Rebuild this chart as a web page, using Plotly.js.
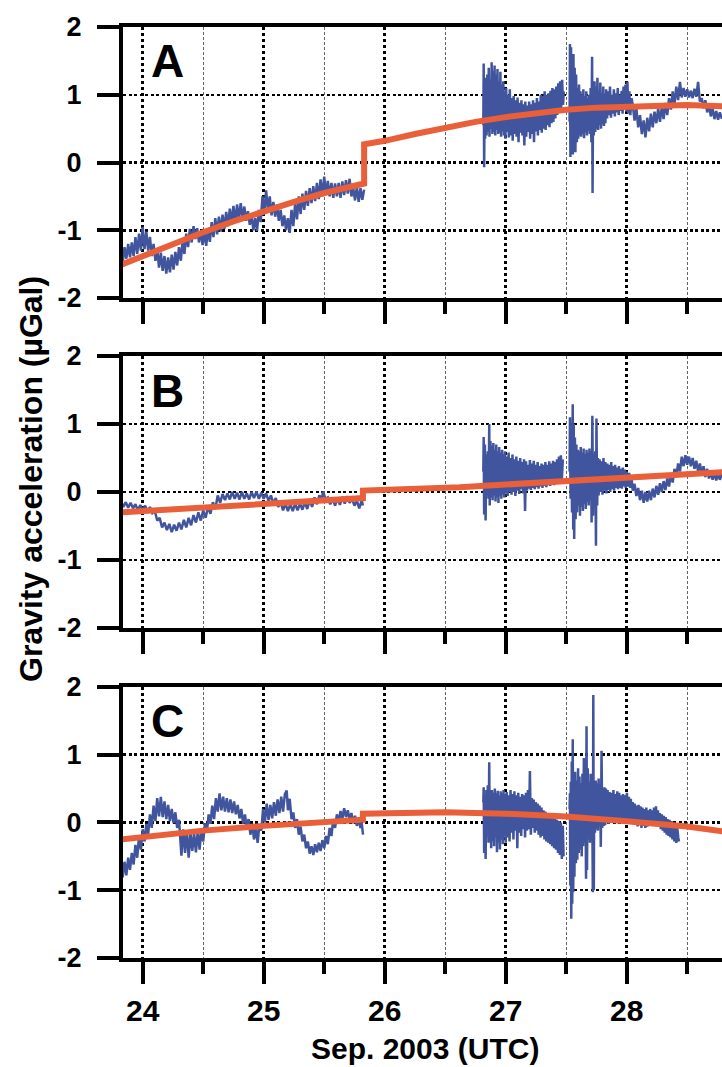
<!DOCTYPE html>
<html>
<head>
<meta charset="utf-8">
<script src="https://cdn.plot.ly/plotly-3.0.1.min.js"></script>
<style>html,body{margin:0;padding:0;background:#fff;}#chart{width:722px;height:1067px;}</style>
</head>
<body>
<div id="chart"></div>
<script>
// ---------- data (time in days of Sep. 2003 UTC, gravity in µGal) ----------
const tickDays = [24, 25, 26, 27, 28];
const tickDayLabels = ['24', '25', '26', '27', '28'];
const halfDays = [24.5, 25.5, 26.5, 27.5, 28.5];
const tickG = [-2, -1, 0, 1, 2];
const tickGLabels = ['-2', '-1', '0', '1', '2'];
const panelLetters = ['A', 'B', 'C'];
const yTitle = 'Gravity acceleration (µGal)';
const xTitle = 'Sep. 2003 (UTC)';

// Panel A – observed (blue), three recorded pieces
const obsA1 = [
[23.82,-1.22],[23.835,-1.47],[23.85,-1.25],[23.865,-1.42],[23.88,-1.20],[23.895,-1.40],[23.91,-1.18],[23.925,-1.38],[23.94,-1.10],[23.955,-1.35],
[23.97,-1.05],[23.985,-1.30],[24.00,-0.95],[24.015,-1.28],[24.03,-1.02],[24.045,-1.30],[24.06,-1.10],[24.075,-1.38],[24.09,-1.20],[24.105,-1.45],
[24.12,-1.28],[24.135,-1.55],[24.15,-1.33],[24.165,-1.60],[24.18,-1.38],[24.195,-1.64],[24.21,-1.40],[24.225,-1.62],[24.24,-1.36],[24.255,-1.58],
[24.27,-1.32],[24.285,-1.52],[24.30,-1.25],[24.315,-1.45],[24.33,-1.15],[24.345,-1.35],[24.36,-1.05],[24.375,-1.25],[24.39,-0.98],[24.405,-1.18],
[24.42,-0.94],[24.435,-1.13],[24.45,-0.97],[24.465,-1.18],[24.48,-1.01],[24.495,-1.22],[24.51,-1.03],[24.525,-1.23],[24.54,-0.97],[24.555,-1.17],
[24.57,-0.88],[24.585,-1.10],[24.60,-0.82],[24.615,-1.06],[24.63,-0.80],[24.645,-1.02],[24.66,-0.77],[24.675,-0.98],[24.69,-0.73],[24.705,-0.94],
[24.72,-0.68],[24.735,-0.90],[24.75,-0.64],[24.765,-0.88],[24.78,-0.62],[24.795,-0.84],[24.81,-0.60],[24.825,-0.82],[24.84,-0.65],[24.855,-0.86],
[24.87,-0.72],[24.885,-0.92],[24.90,-0.78],[24.915,-1.00],[24.93,-0.82],[24.945,-1.01],[24.96,-0.70],[24.975,-0.88],[24.99,-0.50],[25.005,-0.75],
[25.02,-0.41],[25.035,-0.70],[25.05,-0.50],[25.065,-0.78],[25.08,-0.58],[25.095,-0.80],[25.11,-0.62],[25.125,-0.86],[25.14,-0.70],[25.155,-0.94],
[25.17,-0.78],[25.185,-1.00],[25.20,-0.82],[25.215,-1.04],[25.23,-0.70],[25.245,-0.94],[25.26,-0.60],[25.275,-0.84],[25.29,-0.50],[25.305,-0.76],
[25.32,-0.46],[25.335,-0.70],[25.35,-0.42],[25.365,-0.64],[25.38,-0.38],[25.395,-0.60],[25.41,-0.35],[25.425,-0.57],[25.44,-0.30],[25.455,-0.54],
[25.47,-0.25],[25.485,-0.50],[25.50,-0.21],[25.515,-0.48],[25.53,-0.27],[25.545,-0.50],[25.56,-0.30],[25.575,-0.52],[25.59,-0.31],[25.605,-0.50],
[25.62,-0.30],[25.635,-0.52],[25.65,-0.28],[25.665,-0.48],[25.68,-0.26],[25.695,-0.46],[25.71,-0.24],[25.725,-0.50],[25.74,-0.38],[25.755,-0.56],
[25.77,-0.36],[25.785,-0.58],[25.80,-0.38],[25.815,-0.55],[25.83,-0.40]
];
const obsA2 = [
[26.815,0.55],[26.818,1.46],[26.822,-0.07],[26.826,1.05],[26.830,0.35],[26.836,1.25],[26.842,0.40],[26.848,1.30],[26.854,0.45],[26.860,1.40],
[26.866,0.38],[26.872,1.22],[26.878,0.50],[26.884,1.48],[26.890,0.42],[26.896,1.35],[26.902,0.45],[26.908,1.43],[26.914,0.40],[26.920,1.30],
[26.926,0.48],[26.932,1.38],[26.938,0.42],[26.944,1.20],[26.950,0.44],[26.956,1.34],[26.962,0.38],[26.968,1.15],[26.974,0.46],[26.980,1.20],
[26.986,0.40],[26.992,1.05],[26.998,0.35],[27.004,1.10],[27.010,0.45],[27.018,1.00],[27.026,0.37],[27.034,1.08],[27.042,0.40],[27.050,0.95],
[27.058,0.32],[27.066,0.98],[27.074,0.42],[27.082,0.92],[27.090,0.38],[27.098,0.96],[27.106,0.30],[27.114,0.88],[27.122,0.44],[27.130,0.92],
[27.138,0.40],[27.146,0.86],[27.154,0.25],[27.162,0.90],[27.170,0.38],[27.178,0.84],[27.186,0.45],[27.194,0.90],[27.202,0.35],[27.210,0.86],
[27.218,0.42],[27.226,0.92],[27.234,0.30],[27.242,0.88],[27.250,0.46],[27.258,0.95],[27.266,0.40],[27.274,0.90],[27.282,0.48],[27.290,1.00],
[27.298,0.44],[27.306,0.98],[27.314,0.50],[27.322,1.05],[27.330,0.48],[27.338,1.00],[27.346,0.55],[27.354,1.02],[27.362,0.52],[27.370,1.06],
[27.378,0.58],[27.386,1.10],[27.394,0.60],[27.402,1.08],[27.410,0.65],[27.418,1.12],[27.426,0.70],[27.434,1.17],[27.442,0.75],[27.450,1.20],
[27.458,0.80],[27.466,1.22],[27.474,0.85],[27.480,1.05]
];
const obsA3 = [
[27.528,0.60],[27.531,1.75],[27.535,0.08],[27.540,1.70],[27.545,0.20],[27.550,1.45],[27.555,0.12],[27.560,1.60],[27.565,0.27],[27.570,1.40],
[27.576,0.15],[27.582,1.30],[27.588,0.30],[27.594,1.10],[27.600,0.35],[27.606,1.15],[27.612,0.40],[27.618,1.05],[27.624,0.38],[27.630,1.00],
[27.636,0.42],[27.642,1.08],[27.648,0.36],[27.654,0.98],[27.660,0.44],[27.666,1.05],[27.672,0.40],[27.678,0.95],[27.684,0.46],[27.690,1.00],
[27.696,0.42],[27.702,1.10],[27.708,0.30],[27.714,1.56],[27.718,-0.45],[27.722,1.00],[27.728,0.40],[27.734,1.20],[27.740,0.45],[27.746,1.12],
[27.752,0.50],[27.758,1.25],[27.764,0.48],[27.770,1.05],[27.776,0.55],[27.782,1.18],[27.788,0.50],[27.794,1.02],[27.800,0.56],[27.806,1.12],
[27.812,0.54],[27.818,1.00],[27.824,0.58],[27.830,1.08],[27.838,0.65],[27.846,1.05],[27.854,0.70],[27.862,1.12],[27.870,0.66],[27.878,1.00],
[27.886,0.72],[27.894,1.08],[27.902,0.68],[27.910,1.02],[27.918,0.74],[27.926,1.10],[27.934,0.70],[27.942,1.00],[27.950,0.76],[27.958,1.06],
[27.966,0.72],[27.974,1.12],[27.982,0.78],[27.990,1.15],[27.998,0.75],[28.006,1.19],[28.014,0.72],[28.022,1.05],[28.030,0.70],[28.040,0.95],
[28.050,0.85],[28.065,0.62],[28.080,0.80],[28.095,0.52],[28.110,0.70],[28.125,0.42],[28.140,0.62],[28.155,0.37],[28.170,0.66],[28.185,0.46],
[28.200,0.72],[28.215,0.52],[28.230,0.75],[28.245,0.58],[28.260,0.80],[28.275,0.60],[28.290,0.82],[28.305,0.64],[28.320,0.88],[28.335,0.70],
[28.350,0.95],[28.365,0.78],[28.380,1.05],[28.395,0.86],[28.410,1.12],[28.425,0.92],[28.440,1.19],[28.455,0.96],[28.470,1.10],[28.485,0.97],
[28.500,1.08],[28.515,0.96],[28.530,1.06],[28.545,0.95],[28.560,1.09],[28.575,0.97],[28.590,1.19],[28.605,0.90],[28.620,0.95],[28.635,0.80],
[28.650,0.92],[28.665,0.74],[28.680,0.86],[28.695,0.68],[28.710,0.80],[28.725,0.64],[28.740,0.76],[28.755,0.63],[28.770,0.74],[28.785,0.65],
[28.800,0.72]
];
// Panel A – model (orange)
const modelA = [
[23.82,-1.51],[24.0,-1.38],[24.25,-1.20],[24.5,-1.03],[24.75,-0.87],[25.0,-0.72],[25.25,-0.58],[25.5,-0.45],[25.83,-0.31],
[25.83,0.27],[26.0,0.32],[26.25,0.42],[26.5,0.52],[26.75,0.60],[27.0,0.67],[27.25,0.73],[27.5,0.78],[27.75,0.81],[28.0,0.83],[28.25,0.845],[28.5,0.85],[28.79,0.83]
];

// Panel B
const obsB1 = [
[23.82,-0.14],[23.84,-0.22],[23.86,-0.15],[23.88,-0.23],[23.90,-0.16],[23.92,-0.24],[23.94,-0.18],[23.96,-0.27],[23.98,-0.19],[24.00,-0.27],
[24.02,-0.20],[24.04,-0.29],[24.06,-0.22],[24.08,-0.31],[24.10,-0.28],[24.12,-0.42],[24.14,-0.38],[24.16,-0.52],[24.18,-0.45],[24.20,-0.56],
[24.22,-0.47],[24.24,-0.59],[24.26,-0.48],[24.28,-0.57],[24.30,-0.45],[24.32,-0.55],[24.34,-0.41],[24.36,-0.52],[24.38,-0.38],[24.40,-0.49],
[24.42,-0.34],[24.44,-0.45],[24.46,-0.30],[24.48,-0.42],[24.50,-0.27],[24.52,-0.38],[24.54,-0.22],[24.56,-0.32],[24.58,-0.15],[24.60,-0.25],
[24.62,-0.05],[24.64,-0.16],[24.66,-0.03],[24.68,-0.12],[24.70,-0.02],[24.72,-0.11],[24.74,0.00],[24.76,-0.10],[24.78,-0.01],[24.80,-0.11],
[24.82,0.00],[24.84,-0.10],[24.86,-0.02],[24.88,-0.11],[24.90,0.00],[24.92,-0.09],[24.94,0.01],[24.96,-0.10],[24.98,-0.01],[25.00,-0.10],
[25.02,-0.02],[25.04,-0.13],[25.06,-0.05],[25.08,-0.17],[25.10,-0.09],[25.12,-0.22],[25.14,-0.15],[25.16,-0.27],[25.18,-0.17],[25.20,-0.28],
[25.22,-0.18],[25.24,-0.28],[25.26,-0.17],[25.28,-0.27],[25.30,-0.17],[25.32,-0.26],[25.34,-0.15],[25.36,-0.25],[25.38,-0.12],[25.40,-0.22],
[25.42,-0.08],[25.44,-0.18],[25.46,-0.05],[25.48,-0.12],[25.49,0.01],[25.51,-0.10],[25.53,-0.08],[25.55,-0.18],[25.57,-0.10],[25.59,-0.20],
[25.61,-0.09],[25.63,-0.19],[25.65,-0.07],[25.67,-0.17],[25.69,-0.06],[25.71,-0.16],[25.73,-0.10],[25.75,-0.20],[25.77,-0.13],[25.79,-0.24],
[25.81,-0.12],[25.82,-0.20]
];
const obsB2 = [
[26.815,0.30],[26.818,0.81],[26.822,-0.33],[26.828,0.70],[26.834,-0.42],[26.840,0.55],[26.846,-0.05],[26.852,0.60],[26.858,-0.10],[26.864,1.00],
[26.868,-0.20],[26.874,0.75],[26.880,-0.08],[26.886,0.68],[26.892,-0.12],[26.898,0.72],[26.904,-0.05],[26.910,0.62],[26.916,-0.14],[26.922,0.70],
[26.928,-0.08],[26.934,0.60],[26.940,-0.16],[26.946,0.66],[26.952,-0.06],[26.958,0.58],[26.964,-0.10],[26.970,0.62],[26.976,-0.04],[26.982,0.56],
[26.988,-0.08],[26.994,0.60],[27.000,-0.02],[27.008,0.52],[27.016,-0.06],[27.024,0.58],[27.032,0.00],[27.040,0.50],[27.048,-0.04],[27.056,0.55],
[27.064,0.00],[27.072,0.48],[27.080,-0.06],[27.088,0.52],[27.096,0.02],[27.104,0.46],[27.112,-0.03],[27.120,0.50],[27.128,0.04],[27.136,0.44],
[27.144,-0.02],[27.152,0.48],[27.160,-0.28],[27.168,0.45],[27.176,0.02],[27.184,0.40],[27.192,0.05],[27.200,0.47],[27.208,0.03],[27.216,0.42],
[27.224,0.06],[27.232,0.46],[27.240,0.04],[27.248,0.40],[27.256,0.07],[27.264,0.44],[27.272,0.05],[27.280,0.38],[27.288,0.08],[27.296,0.42],
[27.304,0.06],[27.312,0.40],[27.320,0.09],[27.328,0.44],[27.336,0.07],[27.344,0.40],[27.352,0.10],[27.360,0.45],[27.368,0.09],[27.376,0.42],
[27.384,0.12],[27.392,0.46],[27.400,0.10],[27.408,0.44],[27.416,0.13],[27.424,0.48],[27.432,0.12],[27.440,0.52],[27.448,0.15],[27.456,0.54],
[27.464,0.18],[27.472,0.48]
];
const obsB3 = [
[27.528,0.30],[27.531,1.10],[27.536,-0.10],[27.542,0.90],[27.548,-0.30],[27.554,1.29],[27.558,-0.55],[27.562,1.00],[27.566,-0.69],[27.572,0.80],
[27.578,-0.40],[27.584,0.70],[27.590,-0.30],[27.596,0.62],[27.602,-0.20],[27.608,0.60],[27.614,-0.35],[27.620,0.66],[27.626,-0.22],[27.632,0.58],
[27.638,-0.28],[27.644,0.64],[27.650,-0.18],[27.656,0.56],[27.662,-0.25],[27.668,0.62],[27.674,-0.15],[27.680,0.58],[27.686,-0.20],[27.692,0.64],
[27.698,-0.12],[27.704,0.60],[27.710,-0.45],[27.716,1.12],[27.722,-0.35],[27.728,0.55],[27.734,-0.10],[27.740,0.60],[27.746,-0.79],[27.750,1.08],
[27.756,-0.20],[27.762,0.50],[27.768,-0.05],[27.776,0.48],[27.784,0.00],[27.792,0.45],[27.800,-0.04],[27.808,0.50],[27.816,0.02],[27.824,0.44],
[27.832,-0.02],[27.840,0.42],[27.848,0.03],[27.856,0.40],[27.864,0.00],[27.872,0.44],[27.880,0.04],[27.888,0.38],[27.896,0.02],[27.904,0.40],
[27.912,0.06],[27.920,0.36],[27.928,0.04],[27.936,0.38],[27.944,0.06],[27.952,0.34],[27.960,0.05],[27.968,0.36],[27.976,0.08],[27.984,0.33],
[27.992,0.06],[28.000,0.30],[28.010,0.08],[28.020,0.28],[28.030,0.06],[28.040,0.20],[28.050,0.02],[28.065,0.12],[28.080,-0.06],[28.095,0.06],
[28.110,-0.12],[28.125,0.02],[28.140,-0.16],[28.155,0.00],[28.170,-0.14],[28.185,0.02],[28.200,-0.12],[28.215,0.05],[28.230,-0.08],[28.245,0.09],
[28.260,-0.04],[28.275,0.13],[28.290,0.00],[28.305,0.16],[28.320,0.03],[28.335,0.20],[28.350,0.08],[28.365,0.27],[28.380,0.14],[28.395,0.34],
[28.410,0.22],[28.425,0.42],[28.440,0.30],[28.455,0.52],[28.470,0.38],[28.485,0.54],[28.500,0.40],[28.515,0.52],[28.530,0.38],[28.545,0.50],
[28.560,0.34],[28.575,0.46],[28.590,0.30],[28.605,0.42],[28.620,0.26],[28.635,0.38],[28.650,0.22],[28.665,0.34],[28.680,0.20],[28.695,0.30],
[28.710,0.18],[28.725,0.28],[28.740,0.17],[28.755,0.27],[28.770,0.18],[28.785,0.26],[28.800,0.20]
];
const modelB = [
[23.82,-0.30],[24.0,-0.28],[24.5,-0.23],[25.0,-0.16],[25.5,-0.12],[25.82,-0.09],
[25.82,0.02],[26.0,0.03],[26.3,0.04],[26.62,0.07],[27.0,0.11],[27.45,0.16],[28.0,0.22],[28.5,0.26],[28.79,0.29]
];

// Panel C
const obsC1 = [
[23.82,-0.62],[23.835,-0.81],[23.85,-0.58],[23.865,-0.78],[23.88,-0.52],[23.895,-0.70],[23.91,-0.45],[23.925,-0.62],[23.94,-0.33],[23.955,-0.52],
[23.97,-0.20],[23.985,-0.40],[24.00,-0.10],[24.015,-0.28],[24.03,-0.02],[24.045,-0.18],[24.06,0.12],[24.075,-0.08],[24.09,0.25],[24.105,0.02],
[24.12,0.36],[24.135,0.09],[24.15,0.38],[24.165,0.08],[24.18,0.31],[24.195,0.05],[24.21,0.26],[24.225,0.02],[24.24,0.20],[24.255,-0.01],
[24.27,0.15],[24.285,-0.08],[24.30,0.04],[24.31,-0.20],[24.32,-0.49],[24.335,-0.10],[24.35,-0.45],[24.365,-0.12],[24.38,-0.52],[24.395,-0.14],
[24.41,-0.42],[24.425,-0.16],[24.44,-0.44],[24.455,-0.13],[24.47,-0.40],[24.485,-0.10],[24.50,-0.28],[24.515,-0.01],[24.53,-0.15],[24.545,0.12],
[24.56,-0.02],[24.575,0.25],[24.59,0.05],[24.605,0.36],[24.62,0.16],[24.635,0.43],[24.65,0.18],[24.665,0.38],[24.68,0.16],[24.695,0.36],
[24.71,0.15],[24.725,0.34],[24.74,0.14],[24.755,0.31],[24.77,0.12],[24.785,0.26],[24.80,0.06],[24.815,0.20],[24.83,-0.02],[24.845,0.12],
[24.86,-0.08],[24.875,0.05],[24.89,-0.18],[24.905,-0.02],[24.92,-0.25],[24.935,-0.08],[24.95,-0.30],[24.965,-0.02],[24.98,-0.12],[24.995,0.20],
[25.01,0.00],[25.025,0.28],[25.04,0.04],[25.055,0.26],[25.07,0.06],[25.085,0.30],[25.10,0.10],[25.115,0.34],[25.13,0.14],[25.145,0.38],
[25.16,0.16],[25.175,0.42],[25.19,0.47],[25.20,0.18],[25.215,0.35],[25.23,0.05],[25.245,0.15],[25.26,-0.08],[25.275,0.05],[25.29,-0.18],
[25.305,-0.06],[25.32,-0.28],[25.335,-0.18],[25.35,-0.38],[25.365,-0.28],[25.38,-0.46],[25.395,-0.35],[25.41,-0.48],[25.425,-0.32],[25.44,-0.44],
[25.455,-0.30],[25.47,-0.42],[25.485,-0.26],[25.50,-0.38],[25.515,-0.20],[25.53,-0.32],[25.545,-0.08],[25.56,-0.20],[25.575,0.05],[25.59,-0.08],
[25.605,0.12],[25.62,0.00],[25.635,0.17],[25.65,0.06],[25.665,0.21],[25.68,0.08],[25.695,0.18],[25.71,0.04],[25.725,0.14],[25.74,-0.01],
[25.755,0.10],[25.77,-0.05],[25.785,0.06],[25.80,-0.08],[25.81,-0.01],[25.821,-0.18]
];
const obsC2 = [
[26.815,0.30],[26.818,0.52],[26.822,-0.45],[26.828,0.40],[26.834,-0.54],[26.840,0.48],[26.846,-0.20],[26.852,0.55],[26.858,-0.30],[26.864,0.89],
[26.868,-0.25],[26.874,0.45],[26.880,-0.38],[26.886,0.48],[26.892,-0.28],[26.898,0.44],[26.904,-0.35],[26.910,0.50],[26.916,-0.22],[26.922,0.43],
[26.928,-0.44],[26.934,0.47],[26.940,-0.30],[26.946,0.40],[26.952,-0.40],[26.958,0.46],[26.964,-0.25],[26.970,0.43],[26.976,-0.32],[26.982,0.48],
[26.988,-0.20],[26.994,0.42],[27.000,-0.30],[27.008,0.45],[27.016,-0.22],[27.024,0.40],[27.032,-0.28],[27.040,0.48],[27.048,-0.15],[27.056,0.42],
[27.064,-0.25],[27.072,0.46],[27.080,-0.12],[27.088,0.40],[27.096,-0.38],[27.104,0.44],[27.112,-0.15],[27.120,0.38],[27.128,-0.20],[27.136,0.42],
[27.144,-0.10],[27.152,0.40],[27.160,-0.22],[27.168,0.44],[27.176,-0.12],[27.184,0.48],[27.192,-0.10],[27.200,0.76],[27.208,-0.18],[27.216,0.36],
[27.224,-0.08],[27.232,0.34],[27.240,-0.15],[27.248,0.30],[27.256,-0.12],[27.264,0.28],[27.272,-0.18],[27.280,0.25],[27.288,-0.22],[27.296,0.22],
[27.304,-0.20],[27.312,0.18],[27.320,-0.25],[27.328,0.16],[27.336,-0.28],[27.344,0.14],[27.352,-0.30],[27.360,0.12],[27.368,-0.32],[27.376,0.10],
[27.384,-0.35],[27.392,0.08],[27.400,-0.38],[27.408,0.06],[27.416,-0.40],[27.424,0.04],[27.432,-0.45],[27.440,0.02],[27.448,-0.48],[27.456,0.00],
[27.464,-0.54],[27.472,-0.05],[27.478,-0.50]
];
const obsC3 = [
[27.528,0.20],[27.531,0.43],[27.534,-0.93],[27.538,0.60],[27.542,-1.42],[27.546,0.90],[27.550,-1.20],[27.554,1.23],[27.558,-1.03],[27.562,0.70],
[27.568,-0.80],[27.574,0.75],[27.580,-0.60],[27.586,0.62],[27.592,-0.55],[27.598,0.80],[27.604,-0.45],[27.610,0.68],[27.616,-0.40],[27.622,0.58],
[27.628,-0.50],[27.634,0.72],[27.640,-0.35],[27.646,0.95],[27.652,-0.30],[27.658,0.70],[27.664,-0.83],[27.668,1.42],[27.672,-0.70],[27.678,0.80],
[27.684,-0.25],[27.690,0.60],[27.696,-0.30],[27.702,0.72],[27.708,-0.20],[27.714,0.65],[27.720,-1.03],[27.724,1.88],[27.728,-1.00],[27.732,0.55],
[27.738,-0.15],[27.744,0.62],[27.750,-0.10],[27.756,0.58],[27.762,-0.12],[27.768,0.65],[27.774,-0.06],[27.780,0.50],[27.786,-0.36],[27.792,1.06],
[27.798,-0.08],[27.804,0.48],[27.810,-0.05],[27.816,0.52],[27.822,-0.04],[27.828,0.50],[27.834,0.00],[27.842,0.48],[27.850,-0.02],[27.858,0.45],
[27.866,0.02],[27.874,0.44],[27.882,0.00],[27.890,0.48],[27.898,0.04],[27.906,0.42],[27.914,0.02],[27.922,0.46],[27.930,0.05],[27.938,0.44],
[27.946,0.04],[27.954,0.40],[27.962,0.06],[27.970,0.42],[27.978,0.03],[27.986,0.40],[27.994,0.02],[28.002,0.44],[28.010,0.00],[28.018,0.38],
[28.026,-0.02],[28.034,0.35],[28.042,0.00],[28.050,0.30],[28.058,-0.03],[28.066,0.28],[28.074,-0.02],[28.082,0.25],[28.090,-0.06],[28.098,0.26],
[28.106,-0.04],[28.114,0.24],[28.122,-0.08],[28.130,0.22],[28.138,-0.05],[28.146,0.20],[28.154,-0.08],[28.162,0.22],[28.170,-0.06],[28.178,0.18],
[28.186,-0.05],[28.194,0.20],[28.202,-0.04],[28.210,0.18],[28.218,-0.02],[28.226,0.22],[28.234,-0.02],[28.242,0.24],[28.250,0.00],[28.258,0.18],
[28.266,-0.05],[28.274,0.14],[28.282,-0.10],[28.290,0.12],[28.298,-0.12],[28.306,0.10],[28.314,-0.15],[28.322,0.08],[28.330,-0.18],[28.338,0.05],
[28.346,-0.20],[28.354,0.04],[28.362,-0.22],[28.370,0.02],[28.378,-0.25],[28.386,0.00],[28.394,-0.28],[28.402,-0.04],[28.410,-0.30],[28.418,-0.08],
[28.426,-0.22],[28.432,-0.28]
];
const modelC = [
[23.82,-0.25],[24.0,-0.21],[24.5,-0.12],[25.0,-0.05],[25.5,0.01],[25.82,0.04],
[25.82,0.13],[26.0,0.14],[26.5,0.15],[27.0,0.13],[27.5,0.09],[28.0,0.02],[28.5,-0.06],[28.79,-0.13]
];

// ---------- drawing ----------
const BLUE = '#41559e';
const ORANGE = '#e85f3a';
const FONT = 'Liberation Sans, Arial, Helvetica, sans-serif';

function obsTrace(pts, xa, ya) {
  return {x: pts.map(p => p[0]), y: pts.map(p => p[1]), xaxis: xa, yaxis: ya,
    type: 'scatter', mode: 'lines', line: {color: BLUE, width: 2.5}, hoverinfo: 'skip'};
}
function modelTrace(pts, xa, ya) {
  return {x: pts.map(p => p[0]), y: pts.map(p => p[1]), xaxis: xa, yaxis: ya,
    type: 'scatter', mode: 'lines', line: {color: ORANGE, width: 6}, hoverinfo: 'skip'};
}

const traces = [
  obsTrace(obsA1, 'x', 'y'), obsTrace(obsA2, 'x', 'y'), obsTrace(obsA3, 'x', 'y'), modelTrace(modelA, 'x', 'y'),
  obsTrace(obsB1, 'x2', 'y2'), obsTrace(obsB2, 'x2', 'y2'), obsTrace(obsB3, 'x2', 'y2'), modelTrace(modelB, 'x2', 'y2'),
  obsTrace(obsC1, 'x3', 'y3'), obsTrace(obsC2, 'x3', 'y3'), obsTrace(obsC3, 'x3', 'y3'), modelTrace(modelC, 'x3', 'y3')
];

function xAxis(anchor, labels) {
  return {
    anchor: anchor, domain: [0, 1], range: [23.8372, 28.7876],
    showline: true, linewidth: 4, linecolor: '#000', mirror: true,
    ticks: 'outside', ticklen: 22, tickwidth: 4, tickcolor: '#000',
    tickmode: 'array', tickvals: tickDays, ticktext: tickDayLabels,
    showticklabels: labels, ticklabelstandoff: 1,
    tickfont: {family: FONT, size: 30, color: '#000', weight: 'bold'},
    showgrid: true, gridcolor: '#000', gridwidth: 3, griddash: '3px,3px',
    zeroline: false, fixedrange: true,
    minor: {tickmode: 'array', tickvals: halfDays, ticks: 'outside', ticklen: 12, tickwidth: 4, tickcolor: '#000',
      showgrid: true, gridcolor: '#666', gridwidth: 1, griddash: '3px,2px'}
  };
}
function yAxis(anchor, dom) {
  return {
    anchor: anchor, domain: dom, range: [-2, 2],
    showline: true, linewidth: 4, linecolor: '#000', mirror: false,
    ticks: 'outside', ticklen: 22, tickwidth: 4, tickcolor: '#000',
    tickmode: 'array', tickvals: tickG, ticktext: tickGLabels, ticklabelstandoff: 10,
    tickfont: {family: FONT, size: 27, color: '#000', weight: 'bold'},
    showgrid: true, gridcolor: '#000', gridwidth: 2.5, griddash: '3px,2.5px',
    zeroline: false, fixedrange: true
  };
}

const letterY = [0.964, 0.6095, 0.2546];
const annotations = panelLetters.map((t, i) => ({
  text: t, xref: 'paper', yref: 'paper', x: 0.0434, y: letterY[i], xanchor: 'left', yanchor: 'middle',
  showarrow: false, font: {family: FONT, size: 46, color: '#000', weight: 'bold'}
}));
annotations.push({text: yTitle, xref: 'paper', yref: 'paper', x: -0.1536, y: 0.5145, xanchor: 'center', yanchor: 'middle',
  textangle: -90, showarrow: false, font: {family: FONT, size: 32, color: '#000', weight: 'bold'}});
annotations.push({text: xTitle, xref: 'paper', yref: 'paper', x: 0.5042, y: -0.0967, xanchor: 'center', yanchor: 'middle',
  showarrow: false, font: {family: FONT, size: 30, color: '#000', weight: 'bold'}});

const layout = {
  width: 722, height: 1067,
  margin: {l: 123, r: 0, t: 27, b: 109, pad: 0},
  paper_bgcolor: '#fff', plot_bgcolor: '#fff',
  showlegend: false,
  xaxis: xAxis('y', false),
  xaxis2: xAxis('y2', false),
  xaxis3: xAxis('y3', true),
  yaxis: yAxis('x', [0.7089, 1]),
  yaxis2: yAxis('x2', [0.3545, 0.6466]),
  yaxis3: yAxis('x3', [0, 0.2911]),
  annotations: annotations
};

Plotly.newPlot('chart', traces, layout, {staticPlot: true, displayModeBar: false});
</script>
</body>
</html>
